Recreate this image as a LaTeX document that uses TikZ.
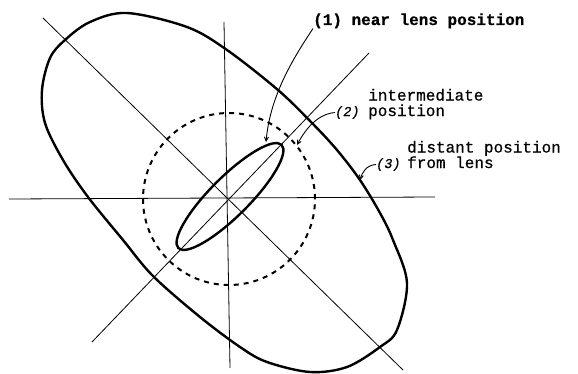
\documentclass[tikz,border=0pt]{standalone}
\usepackage{fontspec}
\newfontfamily\labelfont[FakeBold=0.6]{Liberation Mono}
\usetikzlibrary{arrows.meta}

\begin{document}
\begin{tikzpicture}[x=1pt,y=1pt]
\tikzset{
  axisline/.style={line width=0.8pt},
  spotcurve/.style={line width=2.4pt,line join=round},
  midcircle/.style={line width=2pt,dash pattern=on 5pt off 5pt},
  leader/.style={line width=0.9pt,-{Straight Barb[length=4pt,width=4pt]}},
  labeltext/.style={inner sep=0pt,anchor=base west,align=left,font=\labelfont\fontsize{16}{15.5}\selectfont},
  numtext/.style={inner sep=0pt,anchor=base west,font=\labelfont\itshape\fontsize{13.5}{14}\selectfont}
}
\useasboundingbox (0,0) rectangle (578,373);
\coordinate (h_W) at (9,174);
\coordinate (h_E) at (435,176);
\coordinate (v_N) at (224,351);
\coordinate (v_S) at (230,5);
\coordinate (d_SW) at (92,31);
\coordinate (d_NE) at (369,320);
\coordinate (d_NW) at (43,355);
\coordinate (d_SE) at (403,3);
\draw[axisline] (h_W) -- (h_E);
\draw[axisline] (v_N) -- (v_S);
\draw[axisline] (d_SW) -- (d_NE);
\draw[axisline] (d_NW) -- (d_SE);
% (1) near lens
\draw[spotcurve] (230,176.5) ellipse[x radius=73,y radius=19.5,rotate=45];
% (2) intermediate
\draw[midcircle] (229,174) circle[radius=86];
% (3) distant from lens
\draw[spotcurve] plot[smooth cycle,tension=0.55] coordinates {
  (127,360) (187,346) (227,323) (278,283) (312,250) (337,223) (360,193)
  (380,160) (393,133) (407,90) (397,43) (380,26) (347,6) (310,1)
  (267,11) (240,26) (200,56) (153,97) (123,133) (88,176) (63,213)
  (45,250) (42,283) (50,315) (65,333) (90,351)};
\coordinate (tip_near) at (266,231);
\coordinate (tip_mid) at (297,228);
\coordinate (tip_far) at (360,193);
\node[labeltext,font=\labelfont\bfseries\fontsize{16}{15.5}\selectfont] (lab_near) at (313,348) {(1) near lens position};
\node[numtext] (num_mid) at (335,257) {(2)};
\node[labeltext] (lab_mid) at (368,257) {intermediate\\position};
\node[numtext] (num_far) at (376,205) {(3)};
\node[labeltext] (lab_far) at (407,205) {distant position\\from lens};
\draw[leader] (lab_near.south west) .. controls (290,310) and (270,275) .. (tip_near);
\draw[leader] (num_mid.west) .. controls (318,259) and (306,245) .. (tip_mid);
\draw[leader] (num_far.west) .. controls (366,208) and (362,200) .. (tip_far);
\end{tikzpicture}
\end{document}
